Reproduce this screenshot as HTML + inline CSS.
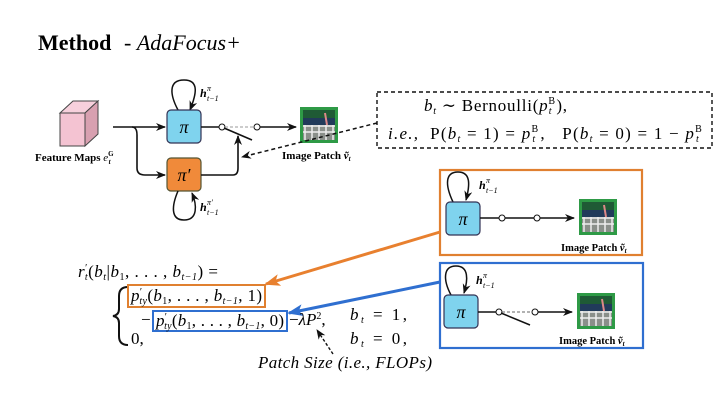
<!DOCTYPE html>
<html><head><meta charset="utf-8"><style>
html,body{margin:0;padding:0;background:#fff;}
svg{display:block;font-family:"Liberation Serif","DejaVu Serif",serif;}
text{font-family:"Liberation Serif","DejaVu Serif",serif;}
.i{font-style:italic;}
.s{font-size:10px;}
</style></head><body>
<svg width="720" height="406" viewBox="0 0 720 406" xmlns="http://www.w3.org/2000/svg">
<defs>
<marker id="ar" markerWidth="10" markerHeight="8" refX="9" refY="4" orient="auto" markerUnits="userSpaceOnUse"><path d="M0,0 L10,4 L0,8 L3,4 Z" fill="#111"/></marker>
<marker id="ao" markerWidth="16" markerHeight="12" refX="14" refY="6" orient="auto" markerUnits="userSpaceOnUse"><path d="M0,0 L16,6 L0,12 L4,6 Z" fill="#e8802f"/></marker>
<marker id="ab" markerWidth="16" markerHeight="12" refX="14" refY="6" orient="auto" markerUnits="userSpaceOnUse"><path d="M0,0 L16,6 L0,12 L4,6 Z" fill="#2f6fd0"/></marker>
<g id="patch">
<rect x="0" y="0" width="38" height="36" fill="#2e9a46"/>
<rect x="3" y="3" width="32" height="30" fill="#213a5a"/>
<rect x="3" y="3" width="32" height="8" fill="#1f5a35"/>
<rect x="3" y="18" width="32" height="15" fill="#8a8f8a"/>
<path d="M3,19 H35 M3,25 H35 M5,18 V33 M12,18 V33 M19,18 V33 M26,18 V33 M33,18 V33" stroke="#eee" stroke-width="1.5"/>
<path d="M25,6 L27,18" stroke="#d88" stroke-width="2"/>
</g>
</defs>

<text x="38" y="50" font-size="22" font-weight="bold">Method</text>
<text x="124" y="50" font-size="22">- <tspan font-style="italic">AdaFocus+</tspan></text>

<!-- cube -->
<path d="M60,113 L73,101 L98,101 L85,113 Z" fill="#f7d0dc" stroke="#444" stroke-width="1"/>
<path d="M85,113 L98,101 L98,134 L85,146 Z" fill="#d8a0b0" stroke="#444" stroke-width="1"/>
<rect x="60" y="113" width="25" height="33" fill="#f4c3d2" stroke="#444" stroke-width="1"/>
<text x="35" y="161" font-size="11" font-weight="bold">Feature Maps <tspan font-style="italic" font-weight="normal">e</tspan><tspan font-size="7" dy="-5">G</tspan><tspan font-size="7" font-style="italic" dx="-5" dy="8">t</tspan></text>

<!-- input lines -->
<path d="M113,127 H165" stroke="#111" stroke-width="1.6" fill="none" marker-end="url(#ar)"/>
<path d="M132,127 Q137,127 137,135 V168 Q137,175 145,175 H165" stroke="#111" stroke-width="1.6" fill="none" marker-end="url(#ar)"/>

<!-- pi boxes -->
<path d="M178,110 C170,95 168,80 184,80 C200,80 196,95 190,110" stroke="#111" stroke-width="1.5" fill="none" marker-end="url(#ar)"/>
<rect x="167" y="110" width="34" height="33" rx="4" fill="#7fd3ee" stroke="#335" stroke-width="1.2"/>
<text x="184" y="133" font-size="18" font-style="italic" text-anchor="middle">π</text>
<text x="200" y="97" font-size="12" font-style="italic" font-weight="bold">h</text>
<text x="207" y="91" font-size="8" font-style="italic">π</text>
<text x="207" y="101" font-size="8" font-style="italic">t−1</text>

<rect x="167" y="158" width="34" height="33" rx="4" fill="#f08a3a" stroke="#553" stroke-width="1.2"/>
<text x="184" y="181" font-size="18" font-style="italic" text-anchor="middle">π′</text>
<path d="M178,191 C172,205 170,220 184,220 C198,220 197,205 192,193" stroke="#111" stroke-width="1.5" fill="none" marker-end="url(#ar)"/>
<text x="200" y="211" font-size="12" font-style="italic" font-weight="bold">h</text>
<text x="207" y="205" font-size="8" font-style="italic">π′</text>
<text x="207" y="215" font-size="8" font-style="italic">t−1</text>

<!-- switch -->
<path d="M201,127 H219" stroke="#111" stroke-width="1.6"/>
<circle cx="222" cy="127" r="3" fill="#fff" stroke="#111" stroke-width="1"/>
<path d="M225,127 H254" stroke="#999" stroke-width="1" stroke-dasharray="3,2"/>
<circle cx="257" cy="127" r="3" fill="#fff" stroke="#111" stroke-width="1"/>
<path d="M260,127 H296" stroke="#111" stroke-width="1.6" marker-end="url(#ar)"/>
<path d="M224,128 L252,140" stroke="#111" stroke-width="1.6"/>
<path d="M201,175 H233 Q238,175 238,168 V136" stroke="#111" stroke-width="1.6" fill="none" marker-end="url(#ar)"/>
<use href="#patch" x="300" y="107"/>
<text x="282" y="159" font-size="11" font-weight="bold">Image Patch <tspan font-style="italic">ṽ</tspan><tspan font-size="7" font-style="italic" dy="2">t</tspan></text>

<!-- dashed box -->
<rect x="377" y="92" width="335" height="56" fill="none" stroke="#111" stroke-width="1.4" stroke-dasharray="4,3"/>
<path d="M377,123 L242,157" stroke="#111" stroke-width="1.5" stroke-dasharray="4,3" marker-end="url(#ar)"/>
<text x="424" y="111" font-size="17" textLength="143" lengthAdjust="spacing"><tspan class="i">b</tspan><tspan class="s i" dy="3">t</tspan><tspan dy="-3"> ∼ Bernoulli(</tspan><tspan class="i">p</tspan><tspan class="s" dy="-7">B</tspan><tspan class="s i" dx="-7" dy="10">t</tspan><tspan dy="-3" dx="4">),</tspan></text>
<text x="388" y="139" font-size="17" xml:space="preserve" textLength="315" lengthAdjust="spacing"><tspan class="i">i.e.,</tspan>  P(<tspan class="i">b</tspan><tspan class="s i" dy="3">t</tspan><tspan dy="-3"> = 1) = </tspan><tspan class="i">p</tspan><tspan class="s" dy="-7">B</tspan><tspan class="s i" dx="-7" dy="10">t</tspan><tspan dy="-3" dx="4">,   P(</tspan><tspan class="i">b</tspan><tspan class="s i" dy="3">t</tspan><tspan dy="-3"> = 0) = 1 − </tspan><tspan class="i">p</tspan><tspan class="s" dy="-7">B</tspan><tspan class="s i" dx="-7" dy="10">t</tspan></text>

<!-- orange box -->
<rect x="440" y="170" width="202" height="85" fill="none" stroke="#e08030" stroke-width="2.2"/>
<path d="M453,202 C445,185 445,172 458,172 C471,172 470,185 466,200" stroke="#111" stroke-width="1.5" fill="none" marker-end="url(#ar)"/>
<rect x="446" y="202" width="34" height="33" rx="4" fill="#7fd3ee" stroke="#335" stroke-width="1.2"/>
<text x="463" y="225" font-size="18" font-style="italic" text-anchor="middle">π</text>
<text x="479" y="189" font-size="12" font-style="italic" font-weight="bold">h</text>
<text x="486" y="183" font-size="8" font-style="italic">π</text>
<text x="486" y="193" font-size="8" font-style="italic">t−1</text>
<path d="M480,218 H499 M505,218 H534 M540,218 H574" stroke="#111" stroke-width="1.5" marker-end="url(#ar)"/>
<circle cx="502" cy="218" r="3" fill="#fff" stroke="#111"/>
<circle cx="537" cy="218" r="3" fill="#fff" stroke="#111"/>
<use href="#patch" x="579" y="199"/>
<text x="561" y="251" font-size="10.5" font-weight="bold">Image Patch <tspan font-style="italic">ṽ</tspan><tspan font-size="7" font-style="italic" dy="2">t</tspan></text>

<!-- blue box -->
<rect x="440" y="263" width="203" height="85" fill="none" stroke="#2f6fd0" stroke-width="2.2"/>
<path d="M451,295 C443,280 443,266 456,266 C469,266 468,280 464,293" stroke="#111" stroke-width="1.5" fill="none" marker-end="url(#ar)"/>
<rect x="444" y="295" width="34" height="33" rx="4" fill="#7fd3ee" stroke="#335" stroke-width="1.2"/>
<text x="461" y="318" font-size="18" font-style="italic" text-anchor="middle">π</text>
<text x="476" y="284" font-size="12" font-style="italic" font-weight="bold">h</text>
<text x="483" y="278" font-size="8" font-style="italic">π</text>
<text x="483" y="288" font-size="8" font-style="italic">t−1</text>
<path d="M478,312 H496" stroke="#111" stroke-width="1.5"/>
<circle cx="499" cy="312" r="3" fill="#fff" stroke="#111"/>
<path d="M502,312 H532" stroke="#666" stroke-width="1" stroke-dasharray="3,2"/>
<circle cx="535" cy="312" r="3" fill="#fff" stroke="#111"/>
<path d="M538,312 H572" stroke="#111" stroke-width="1.5" marker-end="url(#ar)"/>
<path d="M501,313 L530,325" stroke="#111" stroke-width="1.5"/>
<use href="#patch" x="577" y="293"/>
<text x="559" y="344" font-size="10.5" font-weight="bold">Image Patch <tspan font-style="italic">ṽ</tspan><tspan font-size="7" font-style="italic" dy="2">t</tspan></text>

<!-- colored arrows -->
<path d="M440,232 L266,284" stroke="#e8802f" stroke-width="3" marker-end="url(#ao)"/>
<path d="M440,282 L289,313" stroke="#2f6fd0" stroke-width="3" marker-end="url(#ab)"/>

<!-- formula -->
<text x="78" y="277" font-size="17" xml:space="preserve" textLength="140" lengthAdjust="spacing"><tspan class="i">r</tspan><tspan class="s" dy="-6">′</tspan><tspan class="s i" dx="-3" dy="9">t</tspan><tspan dy="-3">(</tspan><tspan class="i">b</tspan><tspan class="s i" dy="3">t</tspan><tspan dy="-3">|</tspan><tspan class="i">b</tspan><tspan class="s" dy="3">1</tspan><tspan dy="-3">, . . . , </tspan><tspan class="i">b</tspan><tspan class="s i" dy="3">t−1</tspan><tspan dy="-3">) =</tspan></text>

<path d="M128,287 Q119,287 119,296 V309 Q119,315 113,316 Q119,317 119,323 V336 Q119,345 128,345" fill="none" stroke="#111" stroke-width="2"/>

<rect x="128" y="285" width="137" height="22" fill="none" stroke="#e08030" stroke-width="2"/>
<text x="131" y="301" font-size="17" xml:space="preserve" textLength="131" lengthAdjust="spacing"><tspan class="i">p</tspan><tspan class="s" dy="-6">′</tspan><tspan class="s i" dx="-3" dy="9">ty</tspan><tspan dy="-3">(</tspan><tspan class="i">b</tspan><tspan class="s" dy="3">1</tspan><tspan dy="-3">, . . . , </tspan><tspan class="i">b</tspan><tspan class="s i" dy="3">t−1</tspan><tspan dy="-3">, 1)</tspan></text>

<text x="141" y="325" font-size="17">−</text>
<rect x="153" y="311" width="134" height="20" fill="none" stroke="#2f6fd0" stroke-width="2"/>
<text x="156" y="326" font-size="17" xml:space="preserve" textLength="128" lengthAdjust="spacing"><tspan class="i">p</tspan><tspan class="s" dy="-6">′</tspan><tspan class="s i" dx="-3" dy="9">ty</tspan><tspan dy="-3">(</tspan><tspan class="i">b</tspan><tspan class="s" dy="3">1</tspan><tspan dy="-3">, . . . , </tspan><tspan class="i">b</tspan><tspan class="s i" dy="3">t−1</tspan><tspan dy="-3">, 0)</tspan></text>
<text x="289" y="325" font-size="17">−<tspan class="i">λP</tspan><tspan class="s" dy="-6">2</tspan><tspan dy="6">,</tspan></text>
<text x="131" y="344" font-size="17">0,</text>
<text x="350" y="320" font-size="17" textLength="57" lengthAdjust="spacing"><tspan class="i">b</tspan><tspan class="s i" dy="3">t</tspan><tspan dy="-3"> = 1,</tspan></text>
<text x="350" y="344" font-size="17" textLength="57" lengthAdjust="spacing"><tspan class="i">b</tspan><tspan class="s i" dy="3">t</tspan><tspan dy="-3"> = 0,</tspan></text>
<path d="M333,354 L317,330" stroke="#111" stroke-width="1.4" stroke-dasharray="3,2" marker-end="url(#ar)"/>
<text x="258" y="368" font-size="17" font-style="italic" textLength="174" lengthAdjust="spacing">Patch Size (i.e., FLOPs)</text>
</svg>
</body></html>
